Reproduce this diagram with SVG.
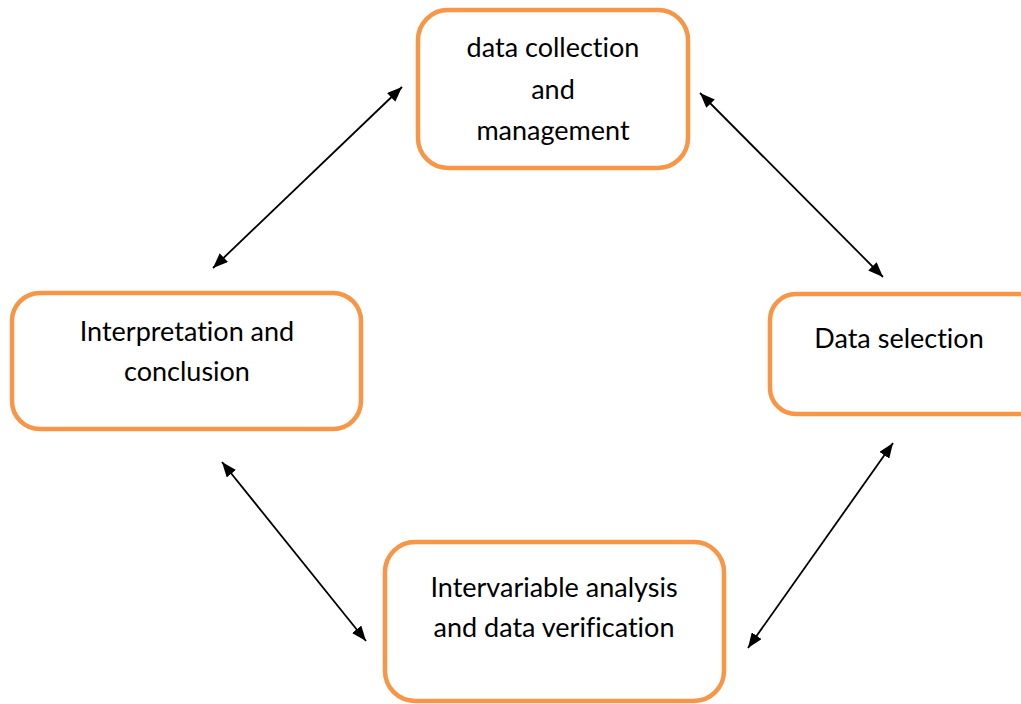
<svg xmlns="http://www.w3.org/2000/svg" width="1021" height="704" viewBox="0 0 1021 704">
  <style>
    .box { fill: #ffffff; stroke: #F79646; stroke-width: 4.5; }
    .label { font-family: Lato, "Open Sans", "Liberation Sans", sans-serif; font-size: 27px; fill: #000000; text-anchor: middle; font-variant-ligatures: none; }
    .link { stroke: #000000; stroke-width: 1.8; fill: none; marker-start: url(#head); marker-end: url(#head); }
  </style>
  <defs>
    <marker id="head" viewBox="0 0 15 12" refX="15" refY="6" markerWidth="15" markerHeight="12" markerUnits="userSpaceOnUse" orient="auto-start-reverse">
      <path d="M0,0 L15,6 L0,12 Z" fill="#000000"/>
    </marker>
  </defs>
  <rect width="1021" height="704" fill="#ffffff"/>

  <g id="connectors">
    <line class="link" x1="213" y1="268" x2="402" y2="87"/>
    <line class="link" x1="700" y1="93" x2="883" y2="277"/>
    <line class="link" x1="222" y1="462" x2="366" y2="641"/>
    <line class="link" x1="893" y1="443" x2="748" y2="648"/>
  </g>

  <g id="node-collection">
    <rect class="box" x="418" y="10" width="270" height="158" rx="30"/>
    <text class="label" x="553" y="57">data collection</text>
    <text class="label" x="553" y="99">and</text>
    <text class="label" x="553" y="140">management</text>
  </g>

  <g id="node-selection">
    <rect class="box" x="770" y="294" width="280" height="120" rx="26"/>
    <text class="label" x="899" y="348">Data selection</text>
  </g>

  <g id="node-analysis">
    <rect class="box" x="385" y="542" width="339" height="159" rx="30"/>
    <text class="label" x="554" y="597">Intervariable analysis</text>
    <text class="label" x="554" y="637">and data verification</text>
  </g>

  <g id="node-interpretation">
    <rect class="box" x="12" y="293" width="349" height="136" rx="28"/>
    <text class="label" x="187" y="341">Interpretation and</text>
    <text class="label" x="187" y="381">conclusion</text>
  </g>
</svg>
